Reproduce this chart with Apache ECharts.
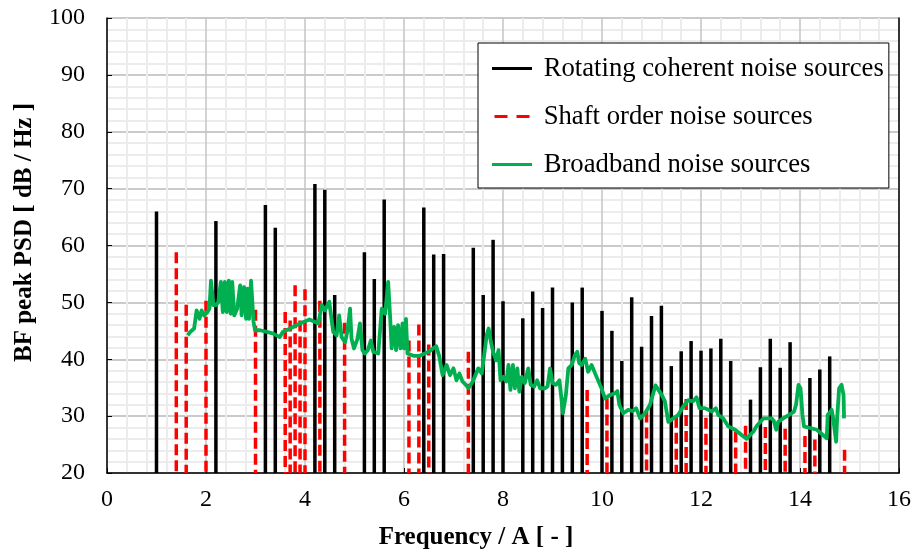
<!DOCTYPE html>
<html>
<head>
<meta charset="utf-8">
<script src="https://cdn.jsdelivr.net/npm/echarts@6/dist/echarts.min.js"></script>
<style>
html, body { margin: 0; padding: 0; background: #fff; }
#chart { width: 917px; height: 555px; }
</style>
</head>
<body>
<div id="chart"></div>
<script>
// rotating coherent noise sources (black stems)
var rotFreq = [1.0, 2.2, 3.2, 3.4, 4.2, 4.4, 4.6, 5.2, 5.4, 5.6, 6.4, 6.6, 6.8, 7.4, 7.6, 7.8, 8.0,
    8.4, 8.6, 8.8, 9.0, 9.2, 9.4, 9.6, 10.0, 10.2, 10.4, 10.6, 10.8, 11.0, 11.2, 11.4, 11.6, 11.8,
    12.0, 12.2, 12.4, 12.6, 13.0, 13.2, 13.4, 13.6, 13.8, 14.2, 14.4, 14.6];
var rotLevel = [66.0, 64.3, 67.1, 63.1, 70.8, 69.8, 51.3, 58.8, 54.1, 68.1, 66.7, 58.4, 58.5, 59.6, 51.3, 61.0, 50.2,
    47.2, 51.9, 49.0, 52.6, 33.2, 50.0, 52.6, 48.5, 45.0, 39.7, 50.9, 42.2, 47.6, 49.4, 38.8, 41.4, 43.2,
    41.5, 41.9, 43.6, 39.7, 32.9, 38.6, 43.6, 38.5, 43.0, 36.7, 38.2, 40.5];

// shaft order noise sources (red dashed stems)
var shaftFreq = [1.4, 1.6, 2.0, 3.0, 3.6, 3.7, 3.8, 3.9, 4.0, 4.3, 4.8, 6.1, 6.3, 6.5, 7.3,
    9.7, 10.1, 10.9, 11.5, 11.7, 12.1, 12.7, 12.9, 13.3, 13.7, 14.1, 14.3, 14.9];
var shaftLevel = [58.8, 49.6, 50.3, 48.7, 48.3, 46.8, 53.0, 46.8, 52.3, 50.3, 46.4, 43.3, 46.1, 42.6, 41.3,
    34.6, 33.1, 30.8, 29.9, 33.0, 29.7, 27.3, 28.3, 28.1, 27.8, 26.5, 25.9, 24.1];

// broadband noise sources (green line)
var bbFreq = [1.63, 1.68, 1.76, 1.81, 1.87, 1.91, 1.96, 2.03, 2.07, 2.10, 2.15, 2.20, 2.25, 2.30, 2.34, 2.38,
    2.42, 2.46, 2.50, 2.53, 2.57, 2.63, 2.69, 2.72, 2.77, 2.81, 2.84, 2.87, 2.91, 2.96, 2.99, 3.09, 3.23,
    3.36, 3.49, 3.55, 3.70, 3.90, 4.09, 4.27, 4.34, 4.40, 4.49, 4.57, 4.64, 4.69, 4.74, 4.81, 4.86, 4.91,
    4.94, 4.99, 5.06, 5.11, 5.16, 5.21, 5.27, 5.33, 5.38, 5.48, 5.55, 5.62, 5.68, 5.72, 5.75, 5.80, 5.84,
    5.88, 5.93, 5.97, 6.00, 6.04, 6.07, 6.19, 6.32, 6.49, 6.65, 6.71, 6.78, 6.86, 6.93, 7.00, 7.06, 7.12,
    7.18, 7.25, 7.30, 7.39, 7.50, 7.57, 7.62, 7.67, 7.71, 7.75, 7.80, 7.86, 7.91, 7.95, 8.01, 8.07, 8.11,
    8.15, 8.20, 8.24, 8.29, 8.33, 8.38, 8.44, 8.51, 8.56, 8.63, 8.69, 8.75, 8.85, 8.90, 8.95, 9.00, 9.07,
    9.14, 9.18, 9.21, 9.27, 9.32, 9.39, 9.45, 9.50, 9.54, 9.59, 9.66, 9.72, 9.79, 9.89, 9.99, 10.06, 10.16,
    10.26, 10.31, 10.35, 10.43, 10.53, 10.62, 10.69, 10.77, 10.87, 10.97, 11.08, 11.21, 11.27, 11.34,
    11.44, 11.54, 11.64, 11.74, 11.84, 11.91, 11.97, 12.08, 12.22, 12.30, 12.35, 12.45, 12.55, 12.69,
    12.82, 12.92, 13.06, 13.12, 13.26, 13.43, 13.47, 13.52, 13.56, 13.66, 13.83, 13.88, 13.92, 13.97,
    14.01, 14.05, 14.08, 14.34, 14.54, 14.56, 14.64, 14.67, 14.73, 14.75, 14.79, 14.84, 14.88, 14.89];
var bbLevel = [44.2, 44.8, 45.4, 48.6, 47.1, 48.6, 47.7, 48.3, 48.9, 53.8, 49.5, 49.5, 50.1, 53.6, 48.3, 53.6,
    48.3, 53.8, 48.0, 53.6, 47.7, 48.9, 53.0, 47.7, 52.7, 47.1, 52.4, 47.1, 53.8, 46.6, 45.1, 45.1, 44.8,
    44.5, 43.9, 44.8, 45.4, 46.3, 47.0, 46.3, 49.5, 48.6, 50.1, 44.8, 44.2, 47.7, 43.9, 43.0, 45.1, 48.9,
    43.6, 41.9, 43.6, 46.3, 41.6, 41.0, 41.6, 43.3, 41.3, 41.0, 48.9, 48.0, 53.6, 47.4, 41.9, 45.7, 41.6,
    46.0, 41.9, 46.3, 41.9, 47.1, 41.0, 40.6, 40.6, 41.3, 42.3, 40.6, 37.2, 39.0, 37.2, 38.4, 36.3, 37.5,
    36.1, 35.5, 34.9, 36.1, 38.4, 37.5, 40.7, 44.2, 45.4, 43.3, 41.3, 39.8, 41.6, 36.3, 36.9, 36.1, 39.0,
    34.6, 39.0, 34.9, 38.4, 34.3, 36.9, 35.8, 38.4, 35.5, 35.2, 36.3, 34.9, 34.9, 35.2, 38.4, 35.8, 35.5,
    36.3, 33.1, 30.5, 33.7, 38.4, 39.0, 40.7, 41.3, 39.3, 39.0, 40.1, 37.8, 39.0, 36.9, 34.9, 33.1, 33.7,
    34.0, 34.4, 32.0, 30.5, 31.1, 30.9, 31.4, 29.6, 30.5, 32.0, 35.4, 33.7, 32.6, 29.0,
    29.6, 30.2, 31.7, 32.8, 32.6, 33.3, 31.4, 31.4, 30.8, 31.4, 30.2, 29.6, 28.2, 27.6,
    26.7, 26.0, 27.3, 28.2, 29.6, 29.6, 29.2, 27.6, 29.0, 29.6, 30.5, 30.8, 32.0, 35.5,
    34.9, 30.2, 28.2, 27.6, 26.1, 30.2, 31.1, 29.6, 25.5, 29.6, 34.9, 35.5, 33.7, 29.6];

var xTicks = { min: 0, max: 16, step: 2 };
var yTicks = { min: 20, max: 100, step: 10 };

var serif = 'Liberation Serif';

function pairs(xs, ys) {
    return xs.map(function(x, i) { return [x, ys[i]]; });
}

// vertical stem from the axis floor up to the value
function stemSeries(name, xs, ys, color, width, dash) {
    return {
        name: name,
        type: 'custom',
        data: pairs(xs, ys),
        itemStyle: { color: color },
        renderItem: function(params, api) {
            var top = api.coord([api.value(0), api.value(1)]);
            var base = api.coord([api.value(0), yTicks.min]);
            return {
                type: 'line',
                shape: { x1: top[0], y1: top[1], x2: base[0], y2: base[1] },
                style: { stroke: color, lineWidth: width, lineDash: dash }
            };
        }
    };
}

var myChart = echarts.init(document.getElementById('chart'));
var option = {
    animation: false,
    backgroundColor: '#fff',
    grid: { left: 107, right: 18, top: 18, bottom: 80 },
    legend: {
        orient: 'vertical',
        left: 478,
        top: 43,
        padding: [12, 5, 10, 14],
        itemGap: 21,
        itemWidth: 40,
        itemHeight: 3,
        backgroundColor: '#fff',
        borderColor: '#000',
        borderWidth: 1,
        borderRadius: 0,
        formatter: ' {name}',
        textStyle: { fontFamily: serif, fontSize: 26.7, color: '#000', lineHeight: 26 },
        data: [
            { name: 'Rotating coherent noise sources', icon: 'rect' },
            { name: 'Shaft order noise sources', icon: 'path://M0,0h13v3h-13zM22,0h13v3h-13z' },
            { name: 'Broadband noise sources', icon: 'rect' }
        ]
    },
    xAxis: {
        type: 'value',
        min: xTicks.min,
        max: xTicks.max,
        interval: xTicks.step,
        name: 'Frequency / A [ - ]',
        nameLocation: 'middle',
        nameGap: 52,
        nameTextStyle: { fontFamily: serif, fontSize: 25, fontWeight: 'bold', color: '#000', padding: [0, 54, 0, 0] },
        axisLine: { lineStyle: { color: '#000', width: 1.5 } },
        axisTick: { inside: true, length: 5, lineStyle: { color: '#000' } },
        axisLabel: { fontFamily: serif, fontSize: 24, color: '#000', margin: 15 },
        splitLine: { show: true, lineStyle: { color: '#c4c4c4', width: 1.5 } },
        minorTick: { show: false, splitNumber: 5 },
        minorSplitLine: { show: true, lineStyle: { color: '#ececec', width: 2 } }
    },
    yAxis: [{
        type: 'value',
        min: yTicks.min,
        max: yTicks.max,
        interval: yTicks.step,
        name: 'BF peak PSD [ dB / Hz ]',
        nameLocation: 'middle',
        nameGap: 70,
        nameTextStyle: { fontFamily: serif, fontSize: 25, fontWeight: 'bold', color: '#000', padding: [0, 0, 0, 26] },
        axisLine: { show: true, lineStyle: { color: '#000', width: 1.5 } },
        axisTick: { show: true, inside: true, length: 5, lineStyle: { color: '#000' } },
        axisLabel: { fontFamily: serif, fontSize: 24, color: '#000', margin: 22 },
        splitLine: { show: true, lineStyle: { color: '#b8b8b8', width: 1.5 } },
        minorTick: { show: false, splitNumber: 5 },
        minorSplitLine: { show: true, lineStyle: { color: '#ececec', width: 2 } }
    }, {
        // right frame of the plot
        type: 'value',
        position: 'right',
        min: yTicks.min,
        max: yTicks.max,
        interval: yTicks.step,
        axisLine: { show: true, lineStyle: { color: '#000', width: 1.5 } },
        axisTick: { show: false },
        axisLabel: { show: false },
        splitLine: { show: false }
    }],
    series: [
        stemSeries('Rotating coherent noise sources', rotFreq, rotLevel, '#000000', 3.5, null),
        stemSeries('Shaft order noise sources', shaftFreq, shaftLevel, '#ff0000', 3.5, [11, 5]),
        {
            name: 'Broadband noise sources',
            type: 'line',
            data: pairs(bbFreq, bbLevel),
            symbol: 'none',
            itemStyle: { color: '#00b050' },
            lineStyle: { color: '#00b050', width: 3.8, join: 'round' },
            z: 3
        }
    ]
};
myChart.setOption(option);
</script>
</body>
</html>
